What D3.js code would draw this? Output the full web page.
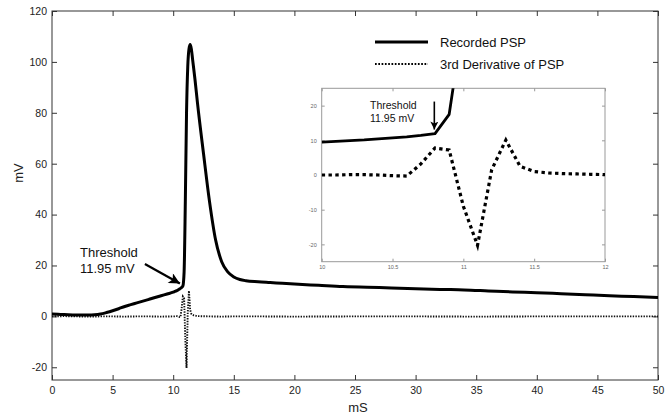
<!DOCTYPE html>
<html>
<head>
<meta charset="utf-8">
<script src="https://cdn.jsdelivr.net/npm/d3@7"></script>
<style>
  body { margin: 0; background: #fff; }
  svg { display: block; font-family: "Liberation Sans", Arial, sans-serif; }
</style>
</head>
<body>
<svg id="chart" width="671" height="418"></svg>
<script>
// Recorded postsynaptic potential (mV) against time (ms)
const pspTime = [0, 0.5, 1, 2, 3, 3.5, 4, 4.5, 5, 5.5, 6, 6.5, 7, 7.5, 8, 8.5, 9, 9.5,
  10, 10.1, 10.2, 10.3, 10.4, 10.5, 10.6, 10.7, 10.8, 10.9, 11.0, 11.1, 11.2, 11.3, 11.4, 11.5, 11.6,
  11.8, 12.0, 12.5, 13.0, 13.5, 14.0, 14.5, 15.0, 15.5, 16, 17, 18, 19, 20, 22, 24, 26, 28, 30,
  32, 34, 36, 38, 40, 42, 44, 46, 48, 50];
const pspValues = [0.9, 0.8, 0.7, 0.5, 0.5, 0.6, 0.9, 1.5, 2.2, 3.0, 3.9, 4.6, 5.3, 6.0, 6.7, 7.4, 8.1, 8.8,
  9.5, 9.7, 9.9, 10.1, 10.4, 10.7, 11.0, 11.4, 11.95, 17.5, 45, 80, 98, 105, 106.8, 105, 101,
  93, 84, 64, 45, 30, 21.5, 17.5, 15.5, 14.5, 14.0, 13.6, 13.3, 13.0, 12.7, 12.2, 11.7, 11.4, 11.2, 10.9,
  10.6, 10.4, 10.0, 9.6, 9.3, 8.9, 8.5, 8.1, 7.8, 7.4];

// Third derivative of the PSP
const derivTime = [0, 1, 2, 3, 4, 5, 6, 7, 8, 9, 10, 10.1, 10.2, 10.3, 10.4, 10.5, 10.6, 10.7, 10.8,
  10.9, 11.0, 11.1, 11.2, 11.3, 11.4, 11.5, 11.6, 11.7, 11.8, 11.9, 12.0, 13, 14, 15, 17, 20, 25,
  30, 35, 40, 45, 50];
const derivValues = [0, 0.1, 0, -0.1, 0, 0, -0.1, 0, 0, -0.1, 0, 0, 0.1, 0.1, 0, -0.2, -0.3, 3.2, 7.8,
  7.2, -9, -20.3, 1.5, 10.1, 2.5, 1.0, 0.6, 0.4, 0.3, 0.2, 0.1, 0, -0.1, 0, 0, -0.1, 0,
  0, -0.1, 0, 0, 0];

// Axis ticks
const xTicks = [0, 5, 10, 15, 20, 25, 30, 35, 40, 45, 50];
const yTicks = [-20, 0, 20, 40, 60, 80, 100, 120];
const insetXTicks = [10, 10.5, 11, 11.5, 12];
const insetYTicks = [-20, -10, 0, 10, 20];

const thresholdTime = 10.8;
const thresholdValue = 11.95;

const legendLabels = ["Recorded PSP", "3rd Derivative of PSP"];

const pspData = pspTime.map((t, i) => ({ t, v: pspValues[i] }));
const derivData = derivTime.map((t, i) => ({ t, v: derivValues[i] }));

const svg = d3.select("#chart");
const plainNumber = d => String(d);

// ---------- main panel ----------
const plot = { left: 52, right: 658, top: 11, bottom: 380 };
const x = d3.scaleLinear().domain([0, 50]).range([plot.left, plot.right]);
const y = d3.scaleLinear().domain([-25, 120]).range([plot.bottom, plot.top]);

const axisColor = "#333";

function styleAxis(g) {
  g.select(".domain").remove();
  g.selectAll(".tick line").attr("stroke", axisColor);
  g.selectAll(".tick text").attr("fill", "#222").style("font-size", "10.5px")
    .style("font-family", "'Liberation Sans', Arial, sans-serif");
}

svg.append("g").attr("transform", `translate(0,${plot.bottom})`)
  .call(d3.axisBottom(x).tickValues(xTicks).tickSize(-5).tickPadding(6.5).tickSizeOuter(0).tickFormat(plainNumber))
  .call(styleAxis);
svg.append("g").attr("transform", `translate(0,${plot.top})`)
  .call(d3.axisTop(x).tickValues(xTicks).tickSize(-5).tickFormat("").tickSizeOuter(0))
  .call(styleAxis);
svg.append("g").attr("transform", `translate(${plot.left},0)`)
  .call(d3.axisLeft(y).tickValues(yTicks).tickSize(-5).tickPadding(5).tickSizeOuter(0).tickFormat(plainNumber))
  .call(styleAxis);
svg.append("g").attr("transform", `translate(${plot.right},0)`)
  .call(d3.axisRight(y).tickValues(yTicks).tickSize(-5).tickFormat("").tickSizeOuter(0))
  .call(styleAxis);

svg.append("rect")
  .attr("x", plot.left).attr("y", plot.top)
  .attr("width", plot.right - plot.left).attr("height", plot.bottom - plot.top)
  .attr("fill", "none").attr("stroke", axisColor).attr("stroke-width", 1);

// axis titles
svg.append("text").attr("x", (plot.left + plot.right) / 2 + 3).attr("y", 412)
  .attr("text-anchor", "middle").style("font-size", "13px").attr("fill", "#222").text("mS");
svg.append("text").attr("transform", "translate(23,173) rotate(-90)")
  .attr("text-anchor", "middle").style("font-size", "13px").attr("fill", "#222").text("mV");

const mainLine = d3.line().x(d => x(d.t)).y(d => y(d.v)).curve(d3.curveMonotoneX);

svg.append("path").datum(derivData)
  .attr("d", d3.line().x(d => x(d.t)).y(d => y(d.v)))
  .attr("fill", "none").attr("stroke", "#111").attr("stroke-width", 1.9)
  .attr("stroke-dasharray", "1.4,1.3");

svg.append("path").datum(pspData)
  .attr("d", mainLine)
  .attr("fill", "none").attr("stroke", "#000").attr("stroke-width", 3)
  .attr("stroke-linejoin", "round");

// arrow markers
const defs = svg.append("defs");
defs.append("marker").attr("id", "head").attr("viewBox", "0 0 10 10")
  .attr("refX", 10).attr("refY", 5).attr("markerWidth", 6).attr("markerHeight", 5)
  .attr("markerUnits", "strokeWidth").attr("orient", "auto")
  .append("path").attr("d", "M0,0 L10,5 L0,10 L2.5,5 Z").attr("fill", "#000");

// threshold annotation on the main panel
const tx = x(thresholdTime), ty = y(thresholdValue);
svg.append("line")
  .attr("x1", tx - 38).attr("y1", ty - 22).attr("x2", tx - 3).attr("y2", ty - 2.5)
  .attr("stroke", "#000").attr("stroke-width", 2.2).attr("marker-end", "url(#head)");
const ann = svg.append("text").style("font-size", "13px").attr("fill", "#111");
ann.append("tspan").attr("x", 80).attr("y", 257).text("Threshold");
ann.append("tspan").attr("x", 80).attr("y", 273).text(thresholdValue.toFixed(2) + " mV");

// legend
const legend = svg.append("g");
legend.append("line").attr("x1", 375).attr("x2", 428).attr("y1", 42).attr("y2", 42)
  .attr("stroke", "#000").attr("stroke-width", 3);
legend.append("line").attr("x1", 375).attr("x2", 428).attr("y1", 64).attr("y2", 64)
  .attr("stroke", "#000").attr("stroke-width", 2).attr("stroke-dasharray", "1.7,1.6");
legend.append("text").attr("x", 440).attr("y", 47).style("font-size", "13px").attr("fill", "#111")
  .text(legendLabels[0]);
legend.append("text").attr("x", 440).attr("y", 69).style("font-size", "13px").attr("fill", "#111")
  .text(legendLabels[1]);

// ---------- inset: zoom around threshold ----------
const inset = { left: 321.7, right: 605, top: 88.3, bottom: 261.7 };
const ix = d3.scaleLinear().domain([10, 12]).range([inset.left, inset.right]);
const iy = d3.scaleLinear().domain([-25, 25]).range([inset.bottom, inset.top]);

svg.append("rect")
  .attr("x", inset.left).attr("y", inset.top)
  .attr("width", inset.right - inset.left).attr("height", inset.bottom - inset.top)
  .attr("fill", "#fff");

defs.append("clipPath").attr("id", "insetClip").append("rect")
  .attr("x", inset.left).attr("y", inset.top)
  .attr("width", inset.right - inset.left).attr("height", inset.bottom - inset.top);

const insetColor = "#999";
function styleInset(g) {
  g.select(".domain").remove();
  g.selectAll(".tick line").attr("stroke", insetColor);
  g.selectAll(".tick text").attr("fill", "#666").style("font-size", "5.5px")
    .style("font-family", "'Liberation Sans', Arial, sans-serif");
}
svg.append("g").attr("transform", `translate(0,${inset.bottom})`)
  .call(d3.axisBottom(ix).tickValues(insetXTicks).tickSize(-3).tickPadding(3).tickSizeOuter(0).tickFormat(plainNumber))
  .call(styleInset);
svg.append("g").attr("transform", `translate(0,${inset.top})`)
  .call(d3.axisTop(ix).tickValues(insetXTicks).tickSize(-3).tickFormat("").tickSizeOuter(0))
  .call(styleInset);
svg.append("g").attr("transform", `translate(${inset.left},0)`)
  .call(d3.axisLeft(iy).tickValues(insetYTicks).tickSize(-3).tickPadding(5).tickSizeOuter(0).tickFormat(plainNumber))
  .call(styleInset);
svg.append("g").attr("transform", `translate(${inset.right},0)`)
  .call(d3.axisRight(iy).tickValues(insetYTicks).tickSize(-3).tickFormat("").tickSizeOuter(0))
  .call(styleInset);

svg.append("rect")
  .attr("x", inset.left).attr("y", inset.top)
  .attr("width", inset.right - inset.left).attr("height", inset.bottom - inset.top)
  .attr("fill", "none").attr("stroke", insetColor).attr("stroke-width", 1);

const insetLine = d3.line().x(d => ix(d.t)).y(d => iy(d.v));
const insetPlot = svg.append("g").attr("clip-path", "url(#insetClip)");
insetPlot.append("path").datum(derivData.filter(d => d.t >= 10 && d.t <= 12))
  .attr("d", insetLine).attr("fill", "none").attr("stroke", "#000")
  .attr("stroke-width", 3.2).attr("stroke-dasharray", "3.4,3.4");
insetPlot.append("path").datum(pspData.filter(d => d.t >= 10 && d.t <= 11.1))
  .attr("d", insetLine).attr("fill", "none").attr("stroke", "#000")
  .attr("stroke-width", 2.8).attr("stroke-linejoin", "round");

// threshold annotation on the inset
const itx = ix(thresholdTime), ity = iy(thresholdValue);
svg.append("line")
  .attr("x1", itx - 0.7).attr("y1", ity - 32).attr("x2", itx - 0.7).attr("y2", ity - 4)
  .attr("stroke", "#000").attr("stroke-width", 1.6).attr("marker-end", "url(#head)");
const iann = svg.append("text").style("font-size", "10.5px").attr("fill", "#111");
iann.append("tspan").attr("x", 370).attr("y", 109).text("Threshold");
iann.append("tspan").attr("x", 370).attr("y", 122).text(thresholdValue.toFixed(2) + " mV");
</script>
</body>
</html>
